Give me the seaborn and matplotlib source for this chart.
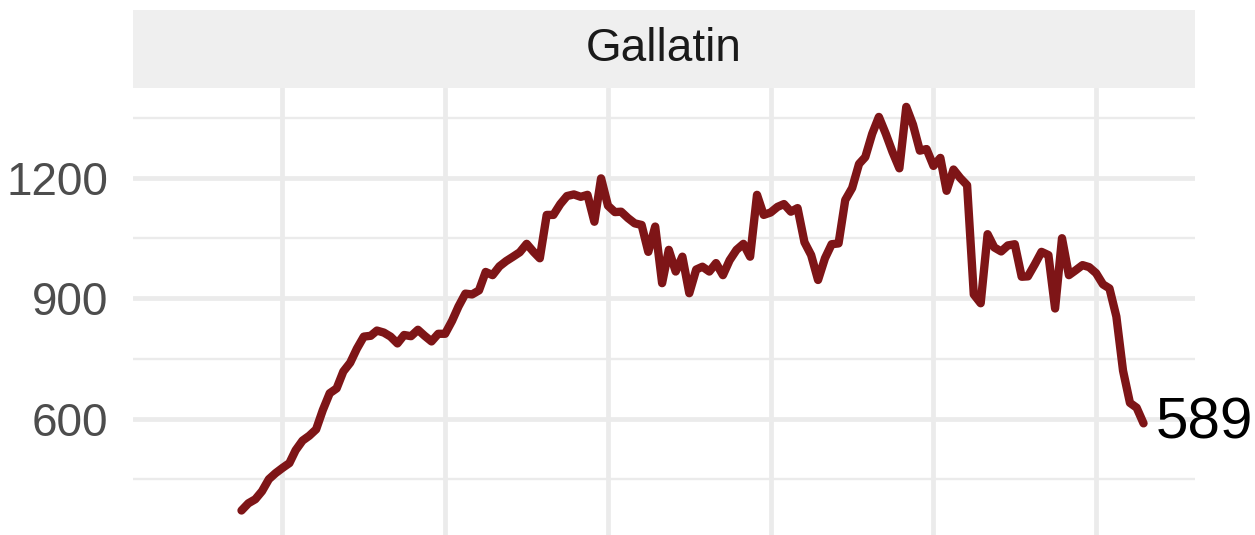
import pandas as pd
import matplotlib
matplotlib.use("Agg")
import matplotlib.pyplot as plt
import seaborn as sns

# ---------------------------------------------------------
# DATA (monthly values)
# ---------------------------------------------------------

county = "Gallatin"

values = [
    372, 390, 400, 420, 450, 465, 478, 490, 522, 546,
    558, 574, 622, 664, 676, 718, 740, 775, 805, 807,
    820, 815, 805, 788, 809, 806, 822, 807, 793, 812,
    812, 844, 880, 912, 910, 920, 966, 958, 980, 993,
    1004, 1015, 1036, 1016, 1000, 1108, 1108, 1135, 1155, 1159,
    1153, 1158, 1091, 1199, 1131, 1115, 1116, 1100, 1087, 1083,
    1016, 1079, 938, 1021, 967, 1004, 913, 972, 979, 967,
    988, 958, 995, 1021, 1036, 1004, 1158, 1108, 1114, 1128,
    1135, 1116, 1125, 1040, 1008, 946, 1000, 1035, 1037, 1145,
    1175, 1235, 1252, 1310, 1352, 1310, 1265, 1224, 1377, 1333,
    1268, 1272, 1230, 1250, 1168, 1221, 1200, 1182, 910, 888,
    1060, 1027, 1017, 1032, 1035, 954, 955, 985, 1016, 1008,
    875, 1050, 958, 970, 983, 978, 963, 935, 925, 855,
    720, 640, 628, 589,
]

start_month = "2005-07-01"
grid_years = ["2006-01-01", "2008-01-01", "2010-01-01",
              "2012-01-01", "2014-01-01", "2016-01-01"]
y_major = [600, 900, 1200]
y_minor = [450, 750, 1050, 1350]

df = pd.DataFrame({
    "date": pd.date_range(start_month, periods=len(values), freq="MS"),
    "value": values,
})

# ---------------------------------------------------------
# STYLE
# ---------------------------------------------------------

sns.set_style("white")
plt.rcParams["font.family"] = ["Liberation Sans", "DejaVu Sans"]

line_color = "#7e1517"
grid_color = "#ebebeb"

fig = plt.figure(figsize=(12.55, 5.35), dpi=100)

W, H = 1255, 535
ax = fig.add_axes([133 / W, 0, (1195 - 133) / W, (H - 88) / H])
strip = fig.add_axes([133 / W, (H - 88) / H, (1195 - 133) / W, 78 / H])

# ---------------------------------------------------------
# LINE
# ---------------------------------------------------------

sns.lineplot(
    data=df,
    x="date",
    y="value",
    color=line_color,
    linewidth=6,
    ax=ax
)

last = df.iloc[-1]
ax.annotate(
    f"{last['value']}",
    xy=(last["date"], last["value"]),
    xytext=(9, 0),
    textcoords="offset points",
    ha="left",
    va="center",
    fontsize=42,
    color="black",
    annotation_clip=False
)

# ---------------------------------------------------------
# AXES
# ---------------------------------------------------------

ax.set_xlim(pd.Timestamp("2004-03-01"), pd.Timestamp("2017-03-20"))
ax.set_ylim(311, 1424)

ax.set_xticks(pd.to_datetime(grid_years))
ax.set_xticklabels([])
ax.set_yticks(y_major)
ax.set_yticks(y_minor, minor=True)
ax.set_yticklabels([str(v) for v in y_major])

ax.tick_params(axis="both", which="both", length=0)
ax.tick_params(axis="y", labelsize=33, labelcolor="#4d4d4d", pad=18)

ax.grid(axis="x", which="major", color=grid_color, linewidth=3.4)
ax.grid(axis="y", which="major", color=grid_color, linewidth=3.4)
ax.grid(axis="y", which="minor", color=grid_color, linewidth=1.7)
ax.set_axisbelow(True)

ax.set_xlabel("")
ax.set_ylabel("")

for s in ax.spines.values():
    s.set_visible(False)

# ---------------------------------------------------------
# FACET STRIP
# ---------------------------------------------------------

strip.set_facecolor("#efefef")
strip.set_xticks([])
strip.set_yticks([])
for s in strip.spines.values():
    s.set_visible(False)
strip.text(
    0.5, 0.5, county,
    ha="center", va="center",
    fontsize=33, color="#1a1a1a",
    transform=strip.transAxes
)

fig.savefig("out.png", dpi=100)
